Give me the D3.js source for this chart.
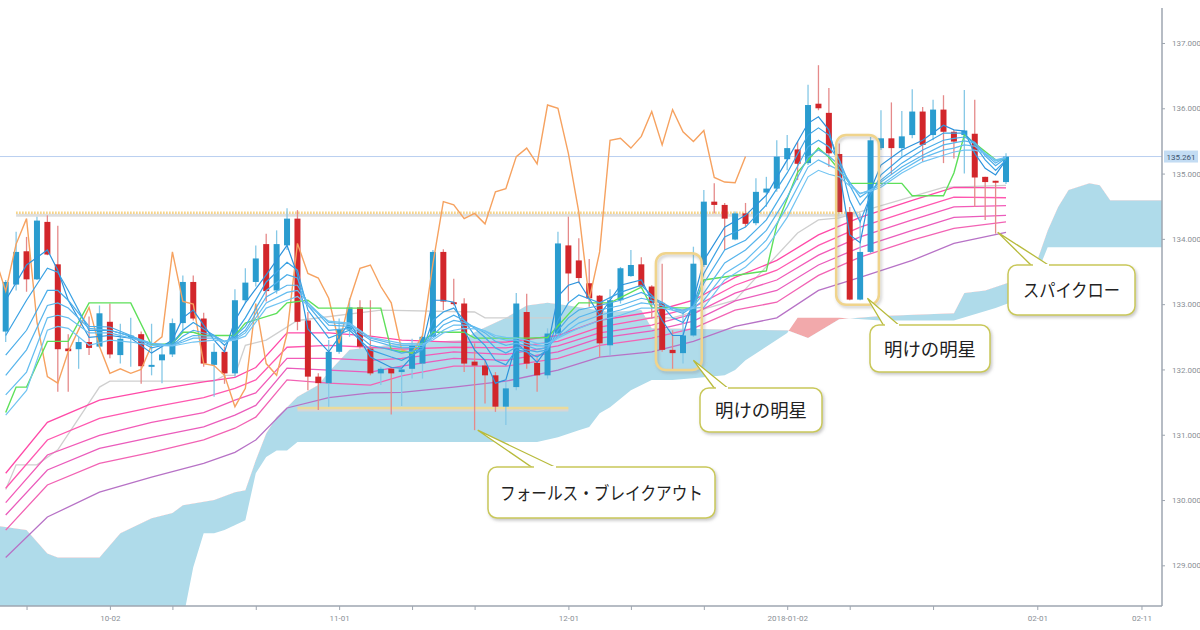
<!DOCTYPE html>
<html>
<head>
<meta charset="utf-8">
<script src="https://cdn.jsdelivr.net/npm/d3@7"></script>
<style>
  html, body { margin: 0; padding: 0; background: #fff; }
  svg { display: block; }
</style>
</head>
<body>
<div id="chart"></div>
<script>
// ---- candles (daily, index 0 = first visible bar) ----
const opens = [132.58,133.30,133.81,133.38,134.26,133.61,132.32,132.31,132.42,132.35,
  132.73,132.22,132.48,132.54,132.04,132.14,132.23,132.71,133.34,132.78,
  132.07,132.27,131.94,133.06,133.34,133.92,133.21,133.90,134.31,132.75,
  131.89,131.79,132.27,132.61,132.95,132.32,131.94,132.01,131.96,132.01,
  132.09,132.50,133.80,133.03,133.01,132.12,132.06,131.91,131.43,131.73,
  132.88,132.10,131.91,132.55,133.90,133.67,133.32,133.13,132.37,133.06,
  133.43,133.61,133.27,133.02,132.30,132.25,132.52,133.60,134.57,134.52,
  133.99,134.39,134.24,134.71,134.77,135.22,135.37,135.16,136.07,135.93,
  135.30,134.41,133.07,133.80,135.39,135.54,135.39,135.59,135.95,135.59,
  135.98,135.64,135.59,135.61,134.95,134.89,134.87];
const highs = [133.37,134.11,134.03,134.34,134.36,134.20,132.54,132.50,132.81,132.98,
  133.01,132.70,132.79,132.58,132.70,132.35,132.78,133.44,133.44,132.87,
  132.40,132.35,133.23,133.55,133.90,134.08,134.13,134.47,134.44,132.88,
  131.94,132.45,132.78,133.09,133.06,133.06,132.04,132.04,132.02,132.47,
  132.55,133.83,133.84,133.39,133.09,132.40,132.14,131.96,131.81,133.17,
  133.16,132.17,132.63,134.11,134.34,134.01,133.69,133.14,133.23,133.57,
  133.83,133.72,133.29,133.62,132.60,132.91,133.88,134.75,134.85,134.55,
  134.42,134.55,134.93,134.95,135.51,135.59,135.49,136.36,136.66,136.31,
  135.46,134.49,134.39,135.56,135.97,136.09,135.96,136.29,136.02,136.13,
  136.20,135.67,136.28,136.13,134.95,134.89,135.31];
const lows = [132.42,133.21,133.19,133.37,133.75,131.66,131.66,132.01,132.22,132.33,
  132.17,132.09,132.04,131.78,131.91,131.79,132.19,132.55,132.75,132.04,
  131.58,131.78,131.89,133.02,133.27,133.04,133.16,133.83,132.60,131.68,
  131.38,131.43,132.24,132.50,132.32,131.91,131.76,131.31,131.44,131.86,
  131.86,132.50,132.91,132.98,131.96,131.07,131.48,131.35,131.15,131.68,
  132.01,131.66,131.86,132.50,133.04,133.32,132.96,132.19,132.22,133.01,
  133.42,133.24,132.78,132.27,131.99,132.09,132.50,133.57,134.39,133.83,
  133.98,134.18,134.21,134.49,134.72,135.05,134.90,135.13,135.97,135.10,
  134.41,133.06,133.06,133.78,135.36,134.99,135.26,135.54,135.18,135.51,
  135.16,135.23,135.00,134.49,134.29,134.08,134.84];
const closes = [133.34,133.80,133.38,134.28,133.76,132.31,132.28,132.42,132.33,132.86,
  132.23,132.47,132.52,132.05,132.07,132.23,132.71,133.34,132.78,132.09,
  132.27,131.94,133.06,133.33,133.70,133.20,133.92,134.31,132.73,131.89,
  131.79,132.27,132.61,132.95,132.35,131.94,132.01,131.94,132.00,132.37,
  132.50,133.80,133.04,133.00,132.09,132.06,131.91,131.43,131.71,133.01,
  132.09,131.91,132.55,133.93,133.47,133.40,133.09,132.40,133.06,133.55,
  133.60,133.27,133.02,132.30,132.25,132.52,133.62,134.57,134.52,134.31,
  134.39,134.23,134.72,134.77,135.26,135.39,135.15,136.05,136.00,135.31,
  134.41,133.07,133.80,135.51,135.54,135.39,135.57,135.95,135.44,135.98,
  135.64,135.49,135.66,134.94,134.87,134.86,135.26];

// ---- short GMMA (blue), read at these bar indices ----
const shortIdx = [0,2,4,5,6,8,10,12,14,16, 17,18,20,21,22,23,25,27,28,29,
  31,33,35,37,38,40,41,42,43,44, 45,46,47,48,49,50,51,52,53,54,
  55,57,59,61,63,64,65,66,67,69, 71,73,75,77,78,79,80,81,82,83,
  84,86,88,90,91,92,93,94,95,96];
const ema3 = [133.06,133.60,133.83,133.52,133.06,132.49,132.52,132.48,132.25,132.45,
  132.79,132.91,132.45,132.27,132.75,133.02,133.45,133.90,133.45,132.62,
  132.27,132.72,132.19,132.03,132.02,132.37,133.06,133.06,133.03,132.60,
  132.30,132.14,131.79,131.84,132.40,132.27,132.11,132.33,133.12,133.29,
  133.34,132.83,133.29,133.37,132.75,132.52,132.52,133.06,133.67,134.18,
  134.36,134.67,135.21,135.77,135.87,135.67,135.05,134.06,133.94,134.75,
  135.13,135.36,135.51,135.74,135.67,135.65,135.31,135.08,134.98,135.21];
const ema5 = [132.52,133.06,133.55,133.49,133.21,132.60,132.60,132.51,132.33,132.40,
  132.60,132.72,132.52,132.37,132.56,132.79,133.34,133.64,133.52,132.91,
  132.48,132.60,132.30,132.19,132.14,132.30,132.75,132.88,132.94,132.75,
  132.52,132.37,132.14,132.07,132.30,132.27,132.19,132.30,132.75,133.02,
  133.14,133.02,133.18,133.29,132.98,132.79,132.72,132.98,133.47,134.03,
  134.18,134.52,135.01,135.59,135.70,135.59,135.21,134.59,134.26,134.67,
  134.98,135.25,135.44,135.62,135.62,135.62,135.44,135.21,135.05,135.21];
const ema8 = [132.22,132.60,133.21,133.21,133.06,132.66,132.65,132.52,132.37,132.37,
  132.51,132.60,132.52,132.42,132.51,132.66,133.21,133.45,133.40,132.98,
  132.60,132.63,132.37,132.30,132.25,132.31,132.60,132.75,132.83,132.75,
  132.63,132.49,132.33,132.25,132.34,132.30,132.27,132.30,132.60,132.79,
  132.91,132.98,133.06,133.18,133.03,132.91,132.86,132.97,133.32,133.83,
  133.98,134.29,134.82,135.41,135.51,135.41,135.21,134.82,134.52,134.72,
  134.90,135.16,135.36,135.51,135.54,135.56,135.48,135.27,135.12,135.24];
const ema10 = [131.91,132.30,132.98,133.02,132.94,132.63,132.60,132.51,132.40,132.37,
  132.45,132.52,132.51,132.43,132.48,132.60,133.11,133.29,133.29,133.02,
  132.68,132.66,132.45,132.36,132.33,132.34,132.52,132.68,132.75,132.72,
  132.65,132.56,132.43,132.37,132.40,132.36,132.31,132.33,132.52,132.68,
  132.80,132.91,132.98,133.09,133.02,132.94,132.89,132.97,133.17,133.63,
  133.83,134.13,134.64,135.25,135.36,135.27,135.13,134.87,134.64,134.75,
  134.87,135.10,135.28,135.44,135.47,135.50,135.47,135.30,135.16,135.25];
const ema12 = [131.61,131.96,132.79,132.83,132.79,132.56,132.56,132.48,132.40,132.37,
  132.42,132.48,132.48,132.43,132.46,132.56,133.02,133.18,133.21,133.02,
  132.72,132.69,132.48,132.40,132.37,132.37,132.48,132.60,132.68,132.68,
  132.65,132.59,132.49,132.45,132.45,132.40,132.36,132.36,132.49,132.60,
  132.71,132.83,132.91,133.02,132.98,132.94,132.91,132.95,133.06,133.47,
  133.67,133.98,134.49,135.10,135.21,135.13,135.05,134.85,134.69,134.75,
  134.82,135.05,135.24,135.36,135.39,135.44,135.42,135.31,135.19,135.25];
const ema15 = [131.30,131.68,132.60,132.66,132.63,132.37,132.45,132.42,132.37,132.36,
  132.39,132.42,132.45,132.43,132.45,132.51,132.94,133.06,133.12,132.98,
  132.74,132.71,132.49,132.43,132.40,132.39,132.45,132.56,132.60,132.63,
  132.62,132.59,132.52,132.49,132.48,132.45,132.40,132.40,132.48,132.56,
  132.63,132.75,132.83,132.94,132.94,132.91,132.89,132.94,132.95,133.37,
  133.57,133.86,134.33,134.95,135.05,134.99,134.95,134.81,134.70,134.73,
  134.79,135.01,135.18,135.28,135.33,135.36,135.36,135.31,135.21,135.25];

// ---- long GMMA (pink / purple) ----
const longIdx = [0,4,9,14,19,22,24,27,31,35,38,43,48,53,57,62,66,70,74,78,82,87,91,96];
const ema30 = [130.41,131.19,131.53,131.68,131.81,131.88,132.03,132.56,132.56,132.51,132.45,132.42,
  132.42,132.52,132.75,132.88,133.06,133.41,133.67,134.06,134.33,134.59,134.79,134.78];
const ema35 = [130.18,130.92,131.25,131.42,131.57,131.71,131.84,132.34,132.37,132.34,132.31,132.34,
  132.33,132.43,132.65,132.79,132.95,133.29,133.52,133.90,134.18,134.44,134.64,134.63];
const ema40 = [129.96,130.69,130.99,131.19,131.34,131.53,131.64,132.17,132.17,132.14,132.17,132.27,
  132.23,132.36,132.56,132.68,132.85,133.17,133.37,133.75,134.03,134.29,134.49,134.51];
const ema45 = [129.77,130.46,130.79,130.96,131.12,131.30,131.45,132.02,131.99,131.96,132.05,132.17,
  132.14,132.27,132.48,132.59,132.74,133.05,133.21,133.60,133.87,134.13,134.33,134.36];
const ema50 = [129.54,130.23,130.56,130.73,130.92,131.10,131.27,131.84,131.79,131.76,131.90,132.05,
  132.05,132.17,132.37,132.48,132.63,132.91,133.03,133.44,133.72,133.98,134.16,134.26];
const ema60 = [129.12,129.74,130.12,130.35,130.56,130.73,130.92,131.41,131.57,131.64,131.65,131.73,
  131.82,131.99,132.19,132.27,132.43,132.66,132.79,133.21,133.41,133.67,133.93,134.10];

// ---- ichimoku lines ----
const tenkanIdx = [0,1,2,4,6,8,12,14,16,17, 18,19,22,23,26,27,29,30,36,37,
  39,41,44,45,50,52,55,58,61,62, 66,67,73,74,76,78,79,81,86,87, 90,91,92,95,96];
const tenkanVal = [131.34,131.73,131.73,132.43,132.43,133.02,133.02,132.37,132.40,132.57,
  132.57,132.52,132.52,132.71,132.86,133.02,133.06,132.94,132.94,132.30,
  132.25,132.57,132.57,132.48,132.48,132.49,133.02,133.02,133.26,132.95,
  132.94,133.37,133.51,134.21,135.02,135.39,135.25,134.85,134.85,134.66,
  134.66,135.01,135.59,135.21,135.22];
const kijunIdx = [0,1,3,5,9,10,20,21,22,23,25,28,36,45,46,64,70,76,78,80,90,96];
const kijunVal = [130.16,130.54,130.54,130.77,131.73,131.82,131.82,131.91,131.91,132.37,132.45,
  132.75,132.91,132.88,132.79,132.79,133.06,134.09,134.29,134.32,134.79,134.82];
const chikouShift = 25;

const spanAIdx = [-1,2,4,5,9,11,14,16,17,20, 22,23,24,25,26,27,28,30,31,33,
  35,38,44,45,48,50,52,54,58,61, 62,75,77,80,84,91,92,94,97,99, 100,101,102,104,105,106,111];
const spanAVal = [129.61,129.54,129.18,129.12,129.12,129.49,129.72,129.80,129.92,130.00,
  130.12,130.15,130.61,131.02,131.27,131.42,131.58,131.76,131.96,132.30,
  132.34,132.40,132.45,132.57,132.79,132.98,133.02,132.98,132.88,132.91,
  132.63,132.60,132.48,132.77,132.82,132.86,133.17,133.21,133.37,133.67,
  134.13,134.49,134.75,134.85,134.82,134.59,134.59];
const spanBIdx = [-1,17,18,19,20,21,23,24,25,26, 27,28,51,53,55,56,57,58,60,62,
  64,67,69,70,71,75,76,80,84,91, 95,97,99,100,111];
const spanBVal = [127.85,128.16,128.97,129.49,129.49,129.54,129.69,130.41,130.66,130.76,
  130.76,130.89,130.89,130.96,131.07,131.12,131.33,131.42,131.68,131.84,
  131.84,131.88,131.91,131.99,132.14,132.56,132.79,132.79,132.75,132.75,
  132.94,133.06,133.48,133.87,133.87];

// ---- horizontal levels ----
const lastPrice = 135.261;
const resistLevel = 134.40, resistFrom = 1, resistTo = 82;
const supportLevel = 131.41, supportFrom = 28, supportTo = 54;

// ---- annotations ----
const markFrom = [62.4, 79.7], markTo = [66.8, 83.8];
const markTop = [133.78, 135.59], markBottom = [131.99, 132.99];
const calloutText = ['フォールス・ブレイクアウト', '明けの明星', '明けの明星', 'スパイクロー'];
const calloutTipIdx = [45.3, 66.0, 82.7, 95.2];
const calloutTipVal = [131.07, 132.14, 133.09, 134.10];

// ---- axis ticks ----
const yTicks = [129, 130, 131, 132, 133, 134, 135, 136, 137];
const xTickIdx = [2, 10, 16, 24, 32, 39, 45, 54, 60, 67, 75, 81, 89, 99, 109];
const xTickLabels = ['', '10-02', '', '', '11-01', '', '', '12-01', '', '', '2018-01-02', '', '', '02-01', '02-11'];

const width = 1200, height = 630;
const plotRight = 1162, plotTop = 8, plotBottom = 606;

const x = d3.scaleLinear().domain([-0.547, 110.97]).range([0, plotRight]);
const y = d3.scaleLinear().domain([128.377, 137.536]).range([plotBottom, plotTop]);

const svg = d3.select('#chart').append('svg')
  .attr('width', width).attr('height', height)
  .attr('viewBox', [0, 0, width, height]);

const defs = svg.append('defs');
defs.append('clipPath').attr('id', 'plotClip')
  .append('rect').attr('x', 0).attr('y', plotTop)
  .attr('width', plotRight).attr('height', plotBottom - plotTop);

const shadow = defs.append('filter').attr('id', 'shadow')
  .attr('x', '-20%').attr('y', '-20%').attr('width', '140%').attr('height', '140%');
shadow.append('feDropShadow').attr('dx', 1.5).attr('dy', 2).attr('stdDeviation', 1.5)
  .attr('flood-color', '#888').attr('flood-opacity', 0.45);

const line = d3.line().x(d => x(d[0])).y(d => y(d[1]));
const pxLine = d3.line();

const plot = svg.append('g').attr('clip-path', 'url(#plotClip)');

// cloud: fill between span A and span B, blue where A above, red where below
const ptsA = d3.zip(spanAIdx, spanAVal).map(d => [x(d[0]), y(d[1])]);
const ptsB = d3.zip(spanBIdx, spanBVal).map(d => [x(d[0]), y(d[1])]);
const xMin = x(-1), xMax = x(111);
defs.append('clipPath').attr('id', 'belowA')
  .append('path').attr('d', pxLine([...ptsA, [xMax, 700], [xMin, 700]]) + 'Z');
defs.append('clipPath').attr('id', 'aboveA')
  .append('path').attr('d', pxLine([...ptsA, [xMax, -100], [xMin, -100]]) + 'Z');
const cloudPath = pxLine([...ptsA, ...ptsB.slice().reverse()]) + 'Z';
const cloud = plot.append('g');
cloud.append('path').attr('d', cloudPath).attr('fill', '#afdbea')
  .attr('clip-path', 'url(#belowA)');
cloud.append('path').attr('d', cloudPath).attr('fill', '#f2a9ab')
  .attr('clip-path', 'url(#aboveA)');

// support / resistance levels (with soft shadow)
const levels = plot.append('g');
levels.append('line')
  .attr('x1', x(supportFrom)).attr('x2', x(supportTo))
  .attr('y1', y(supportLevel) + 2).attr('y2', y(supportLevel) + 2)
  .attr('stroke', '#d6d6d6').attr('stroke-width', 3);
levels.append('line')
  .attr('x1', x(supportFrom)).attr('x2', x(supportTo))
  .attr('y1', y(supportLevel)).attr('y2', y(supportLevel))
  .attr('stroke', '#eadb9c').attr('stroke-width', 2.5);
levels.append('line')
  .attr('x1', x(resistFrom)).attr('x2', x(resistTo))
  .attr('y1', y(resistLevel) + 2.5).attr('y2', y(resistLevel) + 2.5)
  .attr('stroke', '#dedede').attr('stroke-width', 3);
levels.append('line')
  .attr('x1', x(resistFrom)).attr('x2', x(resistTo))
  .attr('y1', y(resistLevel)).attr('y2', y(resistLevel))
  .attr('stroke', '#f5cf7a').attr('stroke-width', 2.5)
  .attr('stroke-dasharray', '1.5,1.5');

// last price line
plot.append('line')
  .attr('x1', 0).attr('x2', plotRight)
  .attr('y1', y(lastPrice)).attr('y2', y(lastPrice))
  .attr('stroke', '#b9cff0').attr('stroke-width', 1);

// kijun (grey)
plot.append('path').datum(d3.zip(kijunIdx, kijunVal))
  .attr('d', line).attr('fill', 'none')
  .attr('stroke', '#cfcfcf').attr('stroke-width', 1.3);

// long GMMA
const longSeries = [ema30, ema35, ema40, ema45, ema50, ema60];
const longColors = ['#ff4aa8', '#ff58b0', '#f25bb8', '#ea5cbc', '#f263b4', '#b772c6'];
plot.append('g').selectAll('path')
  .data(longSeries)
  .join('path')
  .attr('d', s => line(d3.zip(longIdx, s)))
  .attr('fill', 'none')
  .attr('stroke', (s, k) => longColors[k])
  .attr('stroke-width', 1.3);

// candles
const bars = d3.range(closes.length).map(i => ({
  i, o: opens[i], h: highs[i], l: lows[i], c: closes[i]
}));
const candle = plot.append('g').selectAll('g')
  .data(bars)
  .join('g');
candle.append('line')
  .attr('x1', d => x(d.i)).attr('x2', d => x(d.i))
  .attr('y1', d => y(d.h)).attr('y2', d => y(d.l))
  .attr('stroke', d => d.c >= d.o ? '#86c8e6' : '#e58a8a')
  .attr('stroke-width', 1.3);
candle.append('rect')
  .attr('x', d => x(d.i) - 3)
  .attr('width', 6)
  .attr('y', d => y(Math.max(d.o, d.c)))
  .attr('height', d => Math.max(1.8, Math.abs(y(d.o) - y(d.c))))
  .attr('fill', d => d.c >= d.o ? '#2a9ccf' : '#d2262b');

// chikou (orange) = closes shifted back
const chikou = closes.map((c, k) => [k - chikouShift, c]).filter(d => d[0] >= -1);
plot.append('path').datum(chikou)
  .attr('d', line).attr('fill', 'none')
  .attr('stroke', '#f6a260').attr('stroke-width', 1.4);

// tenkan (green)
plot.append('path').datum(d3.zip(tenkanIdx, tenkanVal))
  .attr('d', line).attr('fill', 'none')
  .attr('stroke', '#5ee05a').attr('stroke-width', 1.4);

// short GMMA
const shortSeries = [ema3, ema5, ema8, ema10, ema12, ema15];
const shortColors = ['#2d93dc', '#3aa2e4', '#4aade9', '#58b5ec', '#64bdf0', '#72c4f2'];
plot.append('g').selectAll('path')
  .data(shortSeries)
  .join('path')
  .attr('d', s => line(d3.zip(shortIdx, s)))
  .attr('fill', 'none')
  .attr('stroke', (s, k) => shortColors[k])
  .attr('stroke-width', 1.2);

// highlight frames round the two morning stars
const marks = svg.append('g');
d3.range(markFrom.length).forEach(k => {
  marks.append('rect')
    .attr('x', x(markFrom[k])).attr('y', y(markTop[k]))
    .attr('width', x(markTo[k]) - x(markFrom[k]))
    .attr('height', y(markBottom[k]) - y(markTop[k]))
    .attr('rx', 10).attr('ry', 10)
    .attr('fill', 'none')
    .attr('stroke', '#f0d48c').attr('stroke-width', 2.5)
    .attr('filter', 'url(#shadow)');
});

// axes
const axisColor = '#9ea6b0';
svg.append('line').attr('x1', plotRight).attr('x2', plotRight)
  .attr('y1', plotTop).attr('y2', plotBottom)
  .attr('stroke', axisColor).attr('stroke-width', 1.5);
svg.append('line').attr('x1', 0).attr('x2', plotRight)
  .attr('y1', plotBottom).attr('y2', plotBottom)
  .attr('stroke', axisColor).attr('stroke-width', 1.5);

const yAxis = svg.append('g')
  .attr('transform', `translate(${plotRight},0)`)
  .call(d3.axisRight(y).tickValues(yTicks).tickFormat(d3.format('.3f')).tickSize(3).tickPadding(7));
yAxis.select('.domain').remove();
yAxis.selectAll('line').attr('stroke', axisColor);
yAxis.selectAll('text').attr('fill', '#8a8f96').attr('font-size', 8)
  .attr('font-family', 'Roboto, sans-serif');

const xAxis = svg.append('g')
  .attr('transform', `translate(0,${plotBottom})`)
  .call(d3.axisBottom(x).tickValues(xTickIdx)
    .tickFormat((d, k) => xTickLabels[k]).tickSize(4).tickPadding(5));
xAxis.select('.domain').remove();
xAxis.selectAll('line').attr('stroke', axisColor);
xAxis.selectAll('text').attr('fill', '#8a8f96').attr('font-size', 8)
  .attr('font-family', 'Roboto, sans-serif');

// last price tag
const tag = svg.append('g').attr('transform', `translate(${plotRight + 2},${y(lastPrice)})`);
tag.append('rect').attr('x', 0).attr('y', -6).attr('width', 34).attr('height', 12)
  .attr('fill', '#c3dcf3');
tag.append('text').attr('x', 17).attr('y', 3).attr('text-anchor', 'middle')
  .attr('font-size', 8).attr('font-family', 'Roboto, sans-serif').attr('fill', '#3d5570')
  .text(d3.format('.3f')(lastPrice));

// callouts
const boxes = [[488, 467, 227, 51], [700, 388, 122, 44], [870, 325, 120, 47], [1008, 265, 127, 50]];
const wedgeBase = [[533, 557], [715, 729], [884, 900], [1032, 1050]];
const textLen = [203, 92, 92, 97];
const callouts = svg.append('g');
calloutText.forEach((t, k) => {
  const [bx, by, bw, bh] = boxes[k];
  const tip = [x(calloutTipIdx[k]), y(calloutTipVal[k])];
  const g = callouts.append('g');
  g.append('path')
    .attr('d', pxLine([tip, [wedgeBase[k][1], by + 1], [wedgeBase[k][0], by + 1]]) + 'Z')
    .attr('fill', '#fff').attr('stroke', '#b8bb3c').attr('stroke-width', 1.3);
  g.append('rect')
    .attr('x', bx).attr('y', by).attr('width', bw).attr('height', bh)
    .attr('rx', 9).attr('ry', 9)
    .attr('fill', '#fff').attr('stroke', '#c9c85a').attr('stroke-width', 1.5)
    .attr('filter', 'url(#shadow)');
  // cover the box edge where the wedge joins
  g.append('line')
    .attr('x1', wedgeBase[k][0] + 1).attr('x2', wedgeBase[k][1] - 1)
    .attr('y1', by).attr('y2', by)
    .attr('stroke', '#fff').attr('stroke-width', 2);
  g.append('text')
    .attr('x', bx + bw / 2).attr('y', by + bh / 2 + 7)
    .attr('text-anchor', 'middle')
    .attr('font-family', '"Noto Sans CJK JP", sans-serif')
    .attr('font-size', 18).attr('fill', '#222')
    .attr('textLength', textLen[k]).attr('lengthAdjust', 'spacingAndGlyphs')
    .text(t);
});
</script>
</body>
</html>
